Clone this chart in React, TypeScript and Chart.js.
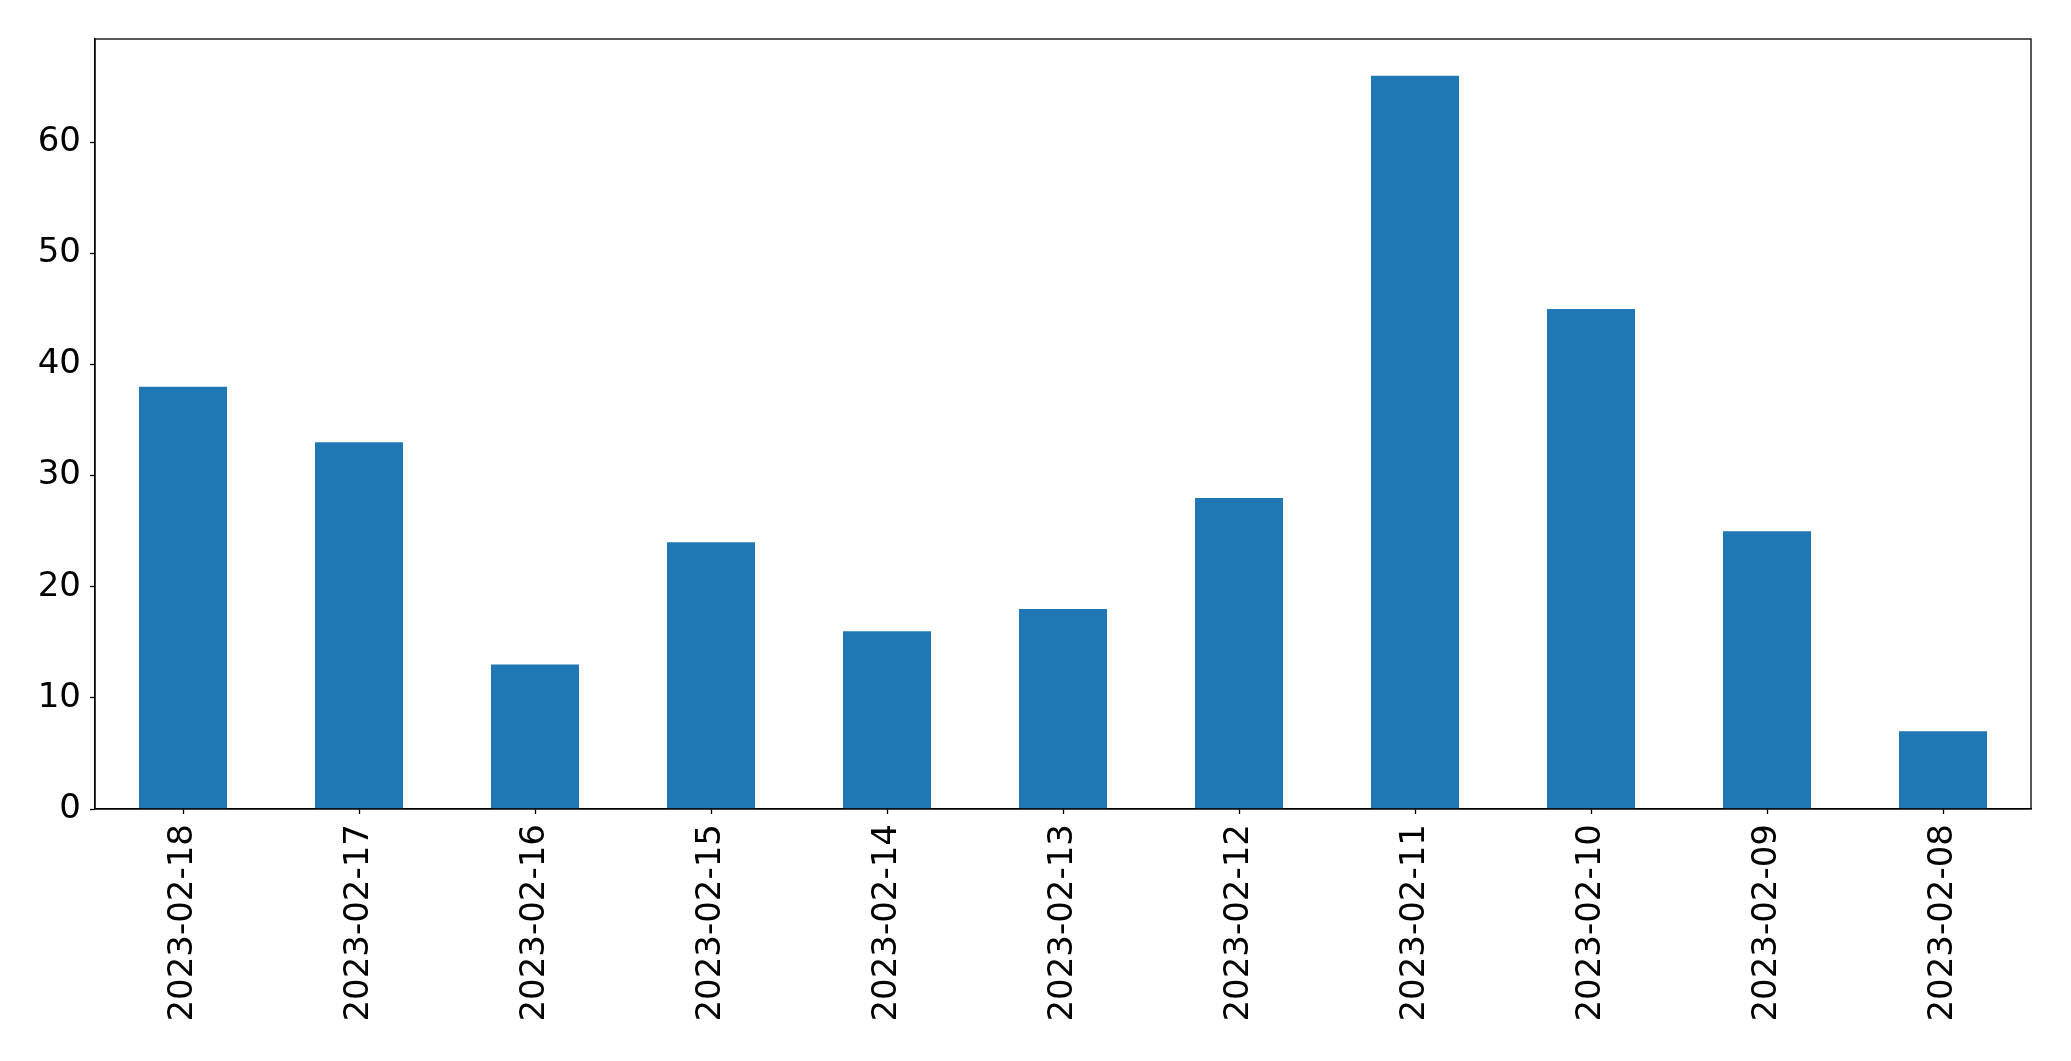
import React, { useEffect, useRef } from "react";
import { Chart, registerables } from "chart.js";

Chart.register(...registerables);

const categories = [
  "2023-02-18", "2023-02-17", "2023-02-16", "2023-02-15", "2023-02-14", "2023-02-13",
  "2023-02-12", "2023-02-11", "2023-02-10", "2023-02-09", "2023-02-08",
];
const values = [38, 33, 13, 24, 16, 18, 28, 66, 45, 25, 7];
const yTicks = [0, 10, 20, 30, 40, 50, 60];

const W = 2071;
const H = 1061;
const LEFT = 95;
const RIGHT = 2031;
const TOP = 39;
const BOTTOM = 809;

const frame = {
  id: "frame",
  afterDatasetsDraw(chart: any) {
    const { ctx, chartArea } = chart;
    ctx.save();
    ctx.strokeStyle = "#000";
    ctx.lineWidth = 1.3;
    ctx.strokeRect(chartArea.left, chartArea.top, chartArea.right - chartArea.left, chartArea.bottom - chartArea.top);
    ctx.restore();
  },
};

export default function App() {
  const ref = useRef<HTMLCanvasElement>(null);
  useEffect(() => {
    if (!ref.current) return;
    const font = { family: "DejaVu Sans", size: 34 };
    const chart = new Chart(ref.current, {
      type: "bar",
      data: {
        labels: categories,
        datasets: [
          {
            data: values,
            backgroundColor: "#1f77b4",
            barPercentage: 0.5,
            categoryPercentage: 1,
          },
        ],
      },
      plugins: [frame],
      options: {
        animation: false,
        responsive: false,
        maintainAspectRatio: false,
        devicePixelRatio: 1,
        layout: { padding: { left: 0, right: W - RIGHT, top: TOP, bottom: 0 } },
        plugins: { legend: { display: false }, tooltip: { enabled: false } },
        scales: {
          x: {
            type: "category",
            offset: true,
            grid: { display: true, offset: false, drawOnChartArea: false, tickLength: 5, tickColor: "#000", color: "#000", tickWidth: 1.3 },
            border: { display: true, color: "#000", width: 1.3 },
            ticks: { color: "#000", font, minRotation: 90, maxRotation: 90, padding: 10, autoSkip: false },
            afterFit: (s: any) => { s.height = H - BOTTOM; },
          },
          y: {
            min: 0,
            max: 69.3,
            afterBuildTicks: (s: any) => { s.ticks = yTicks.map((v) => ({ value: v })); },
            grid: { display: true, drawOnChartArea: false, tickLength: 5, tickColor: "#000", color: "#000", tickWidth: 1.3 },
            border: { display: true, color: "#000", width: 1.3 },
            ticks: { color: "#000", font, padding: 9 },
            afterFit: (s: any) => { s.width = LEFT; },
          },
        },
      },
    });
    return () => chart.destroy();
  }, []);
  return (
    <div style={{ position: "fixed", left: 0, top: 0, width: W, height: H, background: "#fff" }}>
      <canvas ref={ref} width={W} height={H} style={{ width: W, height: H, display: "block" }} />
    </div>
  );
}
